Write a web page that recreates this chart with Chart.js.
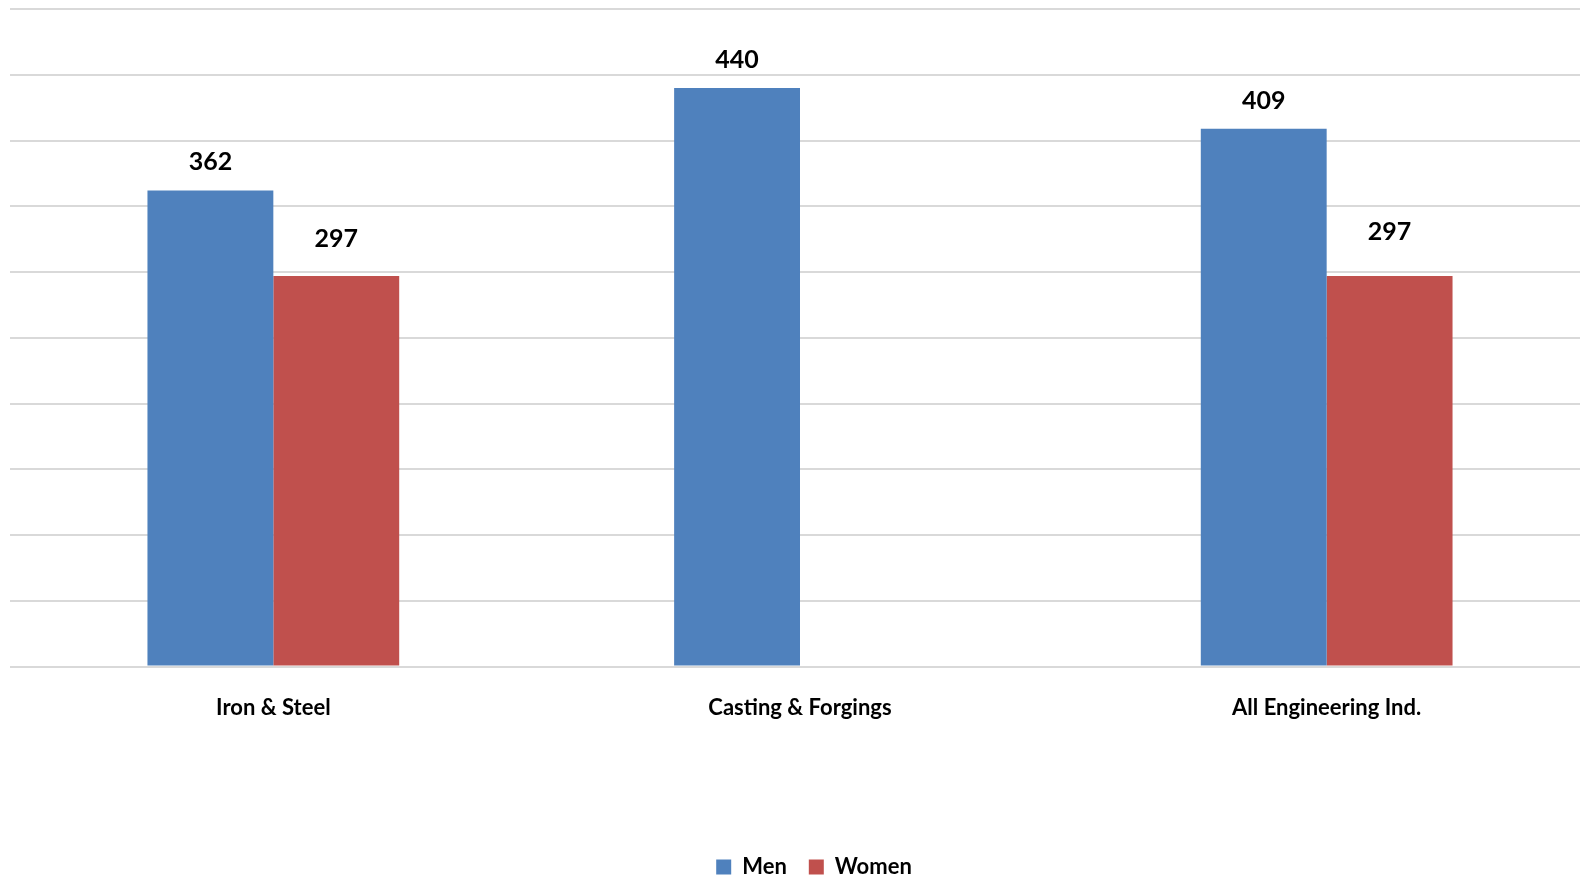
<!DOCTYPE html>
<html>
<head>
<meta charset="utf-8">
<script src="https://cdn.jsdelivr.net/npm/chart.js@4.4.1/dist/chart.umd.min.js"></script>
<style>
  html, body { margin: 0; padding: 0; background: #fff; overflow: hidden; }
  #wrap { width: 1590px; height: 878px; }
</style>
</head>
<body>
<div id="wrap"><canvas id="chart"></canvas></div>
<script>
// Wage comparison chart: Men vs Women, grouped bars with value labels.
var categories = ['Iron & Steel', 'Casting & Forgings', 'All Engineering Ind.'];
var menValues = [362, 440, 409];
var womenValues = [297, null, 297];
var yMax = 500;
var yStep = 50;

// gap (px) between bar top and label baseline, per series; the original
// has the Women labels lifted a bit higher
var labelGap = [[20, 20, 20], [29, 0, 36]];

var blue = '#4F81BD';
var red = '#C0504D';
var fontFamily = 'Lato, "Open Sans", sans-serif';

// Draws the bold value above each bar
var valueLabels = {
  id: 'valueLabels',
  afterDatasetsDraw: function (chart) {
    var ctx = chart.ctx;
    ctx.save();
    ctx.font = 'bold 25px ' + fontFamily;
    ctx.fillStyle = '#000';
    ctx.textAlign = 'center';
    ctx.textBaseline = 'alphabetic';
    chart.data.datasets.forEach(function (ds, i) {
      chart.getDatasetMeta(i).data.forEach(function (bar, j) {
        if (ds.data[j] == null) return;
        ctx.fillText(String(ds.data[j]), bar.x, bar.y - labelGap[i][j]);
      });
    });
    ctx.restore();
  }
};

// Nudge the legend so it sits where the original one does
var legendShift = {
  id: 'legendShift',
  afterLayout: function (chart) {
    var lg = chart.legend;
    lg.left += 14;
    lg.right += 14;
    lg.top += 14;
    lg.bottom += 14;
  }
};

new Chart(document.getElementById('chart'), {
  type: 'bar',
  data: {
    labels: categories,
    datasets: [
      { label: 'Men', data: menValues, backgroundColor: blue },
      { label: 'Women', data: womenValues, backgroundColor: red }
    ]
  },
  options: {
    responsive: true,
    maintainAspectRatio: false,
    animation: false,
    categoryPercentage: 0.478,
    barPercentage: 1.0,
    layout: { padding: { left: 10, right: 0, top: 9, bottom: 4 } },
    plugins: {
      legend: {
        position: 'bottom',
        labels: {
          boxWidth: 15,
          boxHeight: 15,
          padding: 22,
          color: '#000',
          font: { family: fontFamily, size: 22, weight: 'bold' }
        }
      },
      tooltip: { enabled: false }
    },
    scales: {
      x: {
        grid: { display: false },
        border: { display: false },
        ticks: {
          color: '#000',
          padding: 20,
          font: { family: fontFamily, size: 22, weight: 'bold' }
        },
        // leave the empty band between the labels and the legend
        afterFit: function (scale) { scale.height += 79; }
      },
      y: {
        min: 0,
        max: yMax,
        ticks: { display: false, stepSize: yStep },
        border: { display: false },
        grid: { color: '#d9d9d9', lineWidth: 2, drawTicks: false }
      }
    }
  },
  plugins: [valueLabels, legendShift]
});
</script>
</body>
</html>
